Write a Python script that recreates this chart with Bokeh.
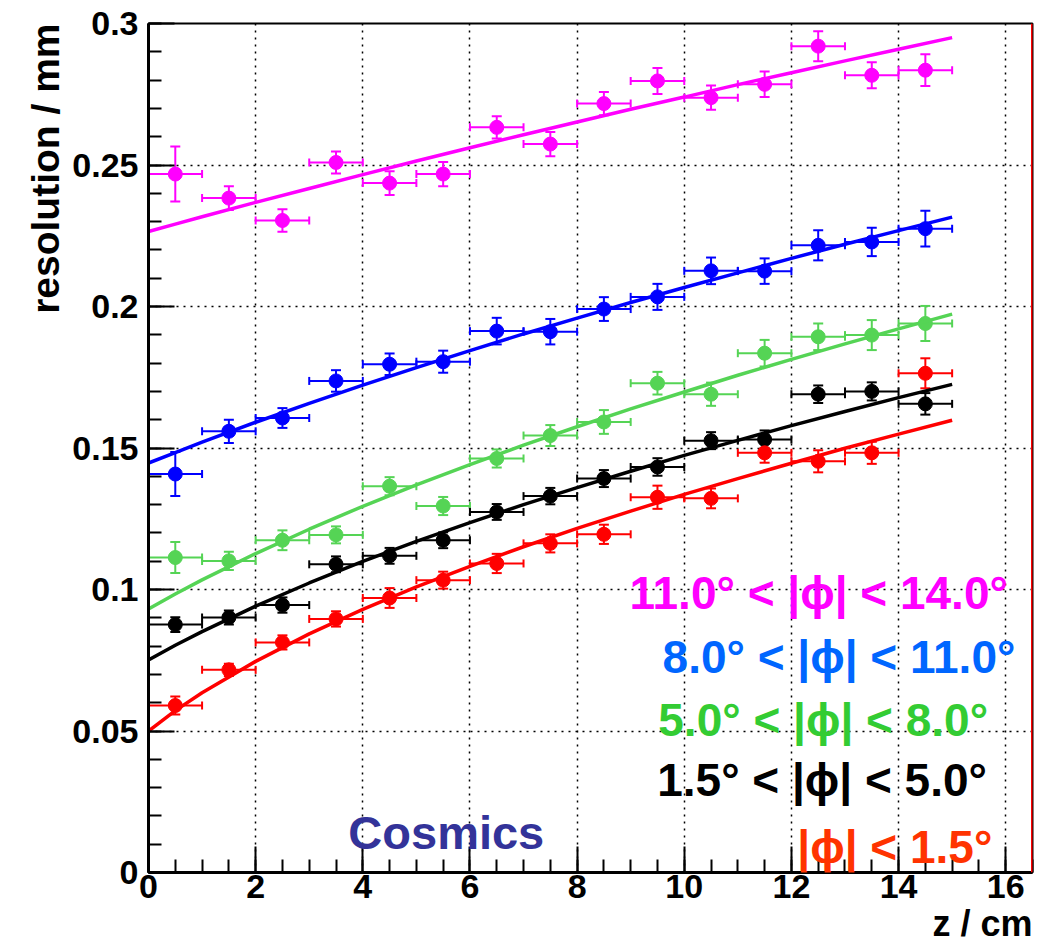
from bokeh.plotting import figure
from bokeh.models import (Range1d, FixedTicker, Whisker, TeeHead, ColumnDataSource,
                          Label, Span, CustomJSTickFormatter, Title)
from bokeh.embed import file_html
from bokeh.resources import INLINE

# ---------------- data ----------------
z_centers = [0.5, 1.5, 2.5, 3.5, 4.5, 5.5, 6.5, 7.5, 8.5, 9.5, 10.5, 11.5, 12.5, 13.5, 14.5]
z_half_width = [0.5] * 15

mag_y = [0.2468, 0.2383, 0.2304, 0.2509, 0.2436, 0.2468, 0.2633, 0.2574, 0.2717, 0.2797,
         0.2738, 0.2785, 0.2920, 0.2817, 0.2835]
mag_err = [0.0097, 0.0042, 0.0040, 0.0039, 0.0042, 0.0043, 0.0039, 0.0043, 0.0041, 0.0046,
           0.0043, 0.0045, 0.0053, 0.0046, 0.0056]

blue_y = [0.1408, 0.1559, 0.1606, 0.1737, 0.1796, 0.1805, 0.1913, 0.1911, 0.1991, 0.2034,
          0.2126, 0.2125, 0.2216, 0.2228, 0.2275]
blue_err = [0.0078, 0.0041, 0.0035, 0.0038, 0.0038, 0.0039, 0.0047, 0.0045, 0.0042, 0.0046,
            0.0047, 0.0045, 0.0053, 0.0050, 0.0063]

green_y = [0.1113, 0.1101, 0.1174, 0.1193, 0.1365, 0.1295, 0.1463, 0.1544, 0.1592, 0.1729,
           0.1690, 0.1835, 0.1893, 0.1899, 0.1940]
green_err = [0.0055, 0.0032, 0.0035, 0.0030, 0.0032, 0.0032, 0.0032, 0.0037, 0.0042, 0.0040,
             0.0041, 0.0047, 0.0047, 0.0053, 0.0062]

black_y = [0.0876, 0.0901, 0.0945, 0.1089, 0.1119, 0.1174, 0.1274, 0.1330, 0.1392, 0.1433,
           0.1526, 0.1530, 0.1690, 0.1700, 0.1656]
black_err = [0.0026, 0.0025, 0.0027, 0.0028, 0.0028, 0.0028, 0.0028, 0.0029, 0.0030, 0.0031,
             0.0030, 0.0032, 0.0031, 0.0032, 0.0038]

red_y = [0.0590, 0.0716, 0.0813, 0.0896, 0.0970, 0.1033, 0.1092, 0.1163, 0.1195, 0.1326,
         0.1322, 0.1483, 0.1453, 0.1483, 0.1764]
red_err = [0.0032, 0.0022, 0.0025, 0.0027, 0.0035, 0.0030, 0.0034, 0.0032, 0.0034, 0.0041,
           0.0035, 0.0035, 0.0039, 0.0039, 0.0053]

# fit curves
fit_z = [0, 0.5, 1, 2, 3, 4, 5, 6, 7, 8, 9, 10, 11, 12, 13, 14, 15]
mag_fit = [0.2265, 0.2291, 0.2317, 0.2368, 0.2417, 0.2466, 0.2514, 0.2561, 0.2607, 0.2652,
           0.2697, 0.2740, 0.2784, 0.2826, 0.2868, 0.2909, 0.2950]
blue_fit = [0.1447, 0.1484, 0.1521, 0.1591, 0.1658, 0.1722, 0.1784, 0.1844, 0.1903, 0.1959,
            0.2014, 0.2067, 0.2119, 0.2170, 0.2220, 0.2268, 0.2316]
green_fit = [0.0931, 0.0984, 0.1034, 0.1127, 0.1213, 0.1294, 0.1370, 0.1441, 0.1510, 0.1575,
             0.1638, 0.1698, 0.1757, 0.1813, 0.1868, 0.1921, 0.1973]
black_fit = [0.0751, 0.0803, 0.0851, 0.0941, 0.1023, 0.1099, 0.1170, 0.1236, 0.1300, 0.1360,
             0.1418, 0.1474, 0.1527, 0.1579, 0.1629, 0.1678, 0.1725]
red_fit = [0.0500, 0.0572, 0.0635, 0.0746, 0.0843, 0.0930, 0.1009, 0.1082, 0.1151, 0.1216,
           0.1277, 0.1336, 0.1392, 0.1446, 0.1499, 0.1549, 0.1598]

legend_texts = ["11.0° < |ϕ| < 14.0°", "8.0° < |ϕ| < 11.0°", "5.0° < |ϕ| < 8.0°",
                "1.5° < |ϕ| < 5.0°", "|ϕ| < 1.5°"]

x_ticks = [0, 2, 4, 6, 8, 10, 12, 14, 16]
x_minor = [i * 0.5 for i in range(34)]
y_ticks = [0, 0.05, 0.1, 0.15, 0.2, 0.25, 0.3]
y_minor = [round(i * 0.01, 2) for i in range(31)]

# ---------------- figure ----------------
FONT = "Liberation Sans"

p = figure(width=1040, height=943,
           x_range=Range1d(0, 16.5), y_range=Range1d(0, 0.3),
           output_backend="svg", toolbar_location=None,
           min_border_left=148, min_border_right=8, min_border_top=23, min_border_bottom=66)
p.background_fill_color = "white"
p.border_fill_color = "white"
p.outline_line_color = "black"
p.outline_line_width = 2

for ax, maj, mino in ((p.xaxis[0], x_ticks, x_minor), (p.yaxis[0], y_ticks, y_minor)):
    ax.ticker = FixedTicker(ticks=maj, minor_ticks=mino)
    ax.axis_line_width = 3
    ax.axis_line_color = "black"
    ax.major_tick_in = 26
    ax.major_tick_out = 0
    ax.minor_tick_in = 13
    ax.minor_tick_out = 0
    ax.major_tick_line_width = 2
    ax.minor_tick_line_width = 2
    ax.major_label_text_font = FONT
    ax.major_label_text_font_style = "bold"
    ax.major_label_text_color = "black"

p.xaxis.major_label_text_font_size = "34px"
p.yaxis.major_label_text_font_size = "34px"
p.xaxis.major_label_standoff = 2
p.yaxis.major_label_standoff = 10
p.yaxis.formatter = CustomJSTickFormatter(code="return tick.toString();")

for g in (p.xgrid[0], p.ygrid[0]):
    g.grid_line_color = "black"
    g.grid_line_dash = "2 5"
    g.grid_line_width = 1.5
p.xgrid.ticker = FixedTicker(ticks=x_ticks)
p.ygrid.ticker = FixedTicker(ticks=y_ticks)

series = [
    (mag_y, mag_err, mag_fit, "#FF00FF"),
    (blue_y, blue_err, blue_fit, "#0000FF"),
    (green_y, green_err, green_fit, "#55D455"),
    (black_y, black_err, black_fit, "#000000"),
    (red_y, red_err, red_fit, "#FF0000"),
]

for ys, errs, fit, col in series:
    src = ColumnDataSource(dict(
        x=z_centers, y=ys,
        ylo=[a - b for a, b in zip(ys, errs)], yhi=[a + b for a, b in zip(ys, errs)],
        xlo=[a - b for a, b in zip(z_centers, z_half_width)],
        xhi=[a + b for a, b in zip(z_centers, z_half_width)],
    ))
    p.add_layout(Whisker(source=src, base="x", lower="ylo", upper="yhi", dimension="height",
                         line_color=col, line_width=2,
                         upper_head=TeeHead(size=10, line_color=col, line_width=2),
                         lower_head=TeeHead(size=10, line_color=col, line_width=2)))
    p.add_layout(Whisker(source=src, base="y", lower="xlo", upper="xhi", dimension="width",
                         line_color=col, line_width=2,
                         upper_head=TeeHead(size=8, line_color=col, line_width=2),
                         lower_head=TeeHead(size=8, line_color=col, line_width=2)))
    p.scatter("x", "y", source=src, size=14, marker="circle", fill_color=col, line_color=col)
    p.line(fit_z, fit, line_color=col, line_width=3.5)

# red right frame edge
p.add_layout(Span(location=16.5, dimension="height", line_color="#FF0000", line_width=3))

# legend texts
leg_cols = ["#FF00FF", "#0066FF", "#33CC33", "#000000", "#FF3300"]
leg_pos = [(16.04, 0.0988), (16.18, 0.0760), (15.67, 0.0538), (15.65, 0.0326), (15.75, 0.0090)]
for txt, col, (lx, ly) in zip(legend_texts, leg_cols, leg_pos):
    p.add_layout(Label(x=lx, y=ly, text=txt, text_color=col, text_font=FONT,
                       text_font_style="bold", text_font_size="46px",
                       text_align="right", text_baseline="alphabetic"))

p.add_layout(Label(x=3.73, y=0.0140, text="Cosmics", text_color="#333399", text_font=FONT,
                   text_font_style="bold", text_font_size="47px",
                   text_align="left", text_baseline="alphabetic"))

# axis titles (placed in the side panels so they are not clipped)
p.add_layout(Title(text="z / cm", align="right", text_font=FONT, text_font_style="bold",
                   text_font_size="36px", text_color="black", standoff=0), "below")
p.add_layout(Title(text="resolution / mm", align="right", text_font=FONT, text_font_style="bold",
                   text_font_size="39px", text_color="black", standoff=6), "left")

open("out.html", "w").write(file_html(p, INLINE))
